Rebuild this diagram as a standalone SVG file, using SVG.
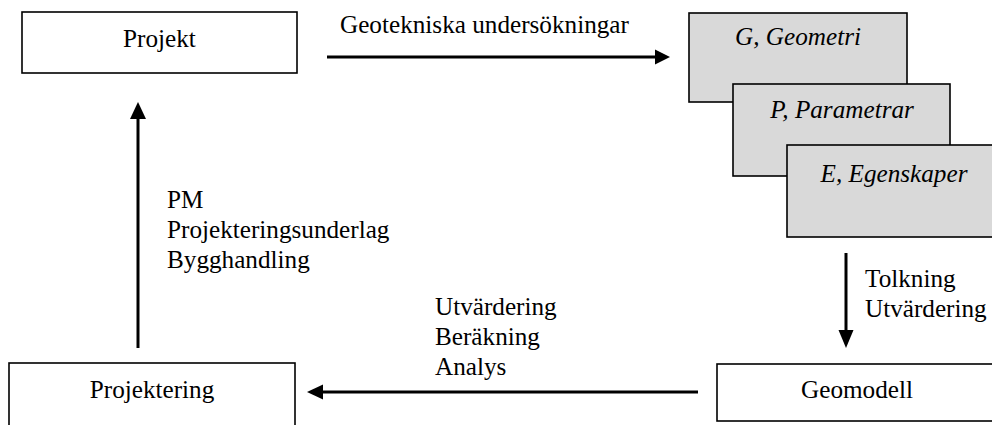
<svg xmlns="http://www.w3.org/2000/svg" width="992" height="425" viewBox="0 0 992 425">
<defs>
<style>
.box{fill:#ffffff;stroke:#000;stroke-width:1.6}
.gbox{fill:#d9d9d9;stroke:#000;stroke-width:1.6}
.t{font-family:"Liberation Serif","Times New Roman",serif;font-size:25.2px;fill:#000}
.i{font-style:italic}
.c{text-anchor:middle}
.ln{stroke:#000;stroke-width:3;fill:none}
.ah{fill:#000}
</style>
</defs>
<rect width="992" height="425" fill="#fff"/>
<g id="projekt">
<rect class="box" x="22" y="12" width="275" height="61"/>
<text class="t c" x="159.5" y="47">Projekt</text>
</g>
<g id="geometri">
<rect class="gbox" x="689" y="13" width="218" height="89"/>
<text class="t i c" x="798" y="45">G, Geometri</text>
</g>
<g id="parametrar">
<rect class="gbox" x="733" y="84" width="217" height="92"/>
<text class="t i c" x="842" y="118">P, Parametrar</text>
</g>
<g id="egenskaper">
<rect class="gbox" x="787" y="145" width="220" height="92"/>
<text class="t i c" x="894" y="182">E, Egenskaper</text>
</g>
<g id="geomodell">
<rect class="box" x="717" y="364" width="290" height="57"/>
<text class="t c" x="857" y="398">Geomodell</text>
</g>
<g id="projektering">
<rect class="box" x="9" y="363" width="286" height="80"/>
<text class="t c" x="152" y="398">Projektering</text>
</g>
<g id="connectors">
<line class="ln" x1="327" y1="57" x2="656" y2="57"/>
<polygon class="ah" points="670,57 655,49.5 655,64.5"/>
<line class="ln" x1="846" y1="253" x2="846" y2="332"/>
<polygon class="ah" points="846,348 838.5,330 853.5,330"/>
<line class="ln" x1="698" y1="392" x2="322" y2="392"/>
<polygon class="ah" points="307,392 323,384.5 323,399.5"/>
<line class="ln" x1="138" y1="348" x2="138" y2="117"/>
<polygon class="ah" points="138,102 130,119 146,119"/>
</g>
<g id="labels">
<text class="t" x="340" y="33">Geotekniska undersökningar</text>
<text class="t" x="865" y="287">Tolkning</text>
<text class="t" x="865" y="317">Utvärdering</text>
<text class="t" x="435" y="315">Utvärdering</text>
<text class="t" x="435" y="345">Beräkning</text>
<text class="t" x="435" y="375">Analys</text>
<text class="t" x="167" y="208">PM</text>
<text class="t" x="167" y="238">Projekteringsunderlag</text>
<text class="t" x="167" y="268">Bygghandling</text>
</g>
</svg>
